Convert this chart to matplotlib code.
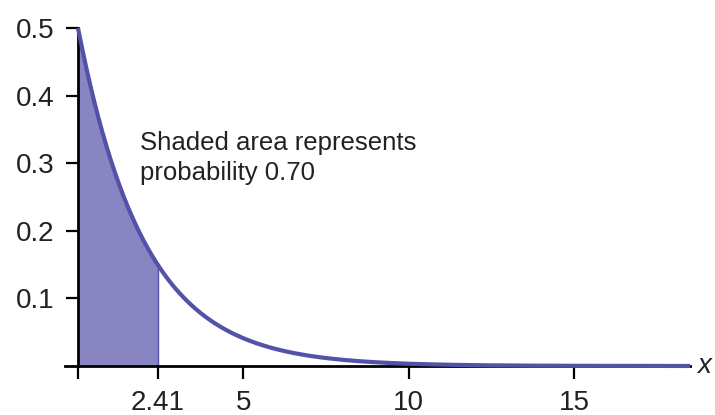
import numpy as np
import matplotlib
matplotlib.use("Agg")
import matplotlib.pyplot as plt
from matplotlib.lines import Line2D

# Data (exponential distribution, decay rate m = 0.5)
rate = 0.5
cutoff = 2.41
x_max = 18.5
y_ticks = [0.1, 0.2, 0.3, 0.4, 0.5]
y_tick_labels = ["0.1", "0.2", "0.3", "0.4", "0.5"]
x_ticks = [0, 2.41, 5, 10, 15]
x_tick_labels = ["", "2.41", "5", "10", "15"]
note = "Shaded area represents\nprobability 0.70"

plt.rcParams['font.family'] = ['Liberation Sans', 'DejaVu Sans']

fig = plt.figure(figsize=(7.15, 4.15), dpi=100)
ax = fig.add_axes([78/715, 49/415, 612/715, 338/415])

xs = np.linspace(0, x_max, 600)
ys = rate * np.exp(-rate * xs)
xf = np.linspace(0, cutoff, 200)
yf = rate * np.exp(-rate * xf)

line_col = "#5252A8"
fill_col = "#8985C3"

ax.fill_between(xf, 0, yf, color=fill_col, lw=0, zorder=1)
ax.plot([cutoff, cutoff], [0, rate*np.exp(-rate*cutoff)], color=line_col, lw=1.0, zorder=2)

ax.set_xlim(0, x_max)
ax.set_ylim(0, 0.5)
for s in ax.spines.values():
    s.set_visible(False)

# axes lines
ax.add_line(Line2D([-13/612, 1], [0, 0], transform=ax.transAxes, color="black", lw=2.0, clip_on=False, zorder=3))
ax.add_line(Line2D([0, 0], [0, 1], transform=ax.transAxes, color="black", lw=2.0, clip_on=False, zorder=3))

ax.plot(xs, ys, color=line_col, lw=3.0, clip_on=False, zorder=4, solid_capstyle='butt')

ax.set_yticks(y_ticks)
ax.set_yticklabels(y_tick_labels)
ax.set_xticks(x_ticks)
ax.set_xticklabels(x_tick_labels)
ax.tick_params(axis='y', length=9, width=1.6, labelsize=20, pad=8, color='black', labelcolor='#222222')
ax.tick_params(axis='x', length=9, width=1.6, labelsize=20, pad=8, color='black', labelcolor='#222222')

ax.text(1.012, 0, "x", transform=ax.transAxes, fontsize=20, style='italic',
        ha='left', va='center', color='#222222')
ax.text(140, 415 - 180, note, transform=None, fontsize=18.5, color='#222222',
        ha='left', va='baseline', linespacing=1.3)

fig.savefig("out.png", dpi=100)
